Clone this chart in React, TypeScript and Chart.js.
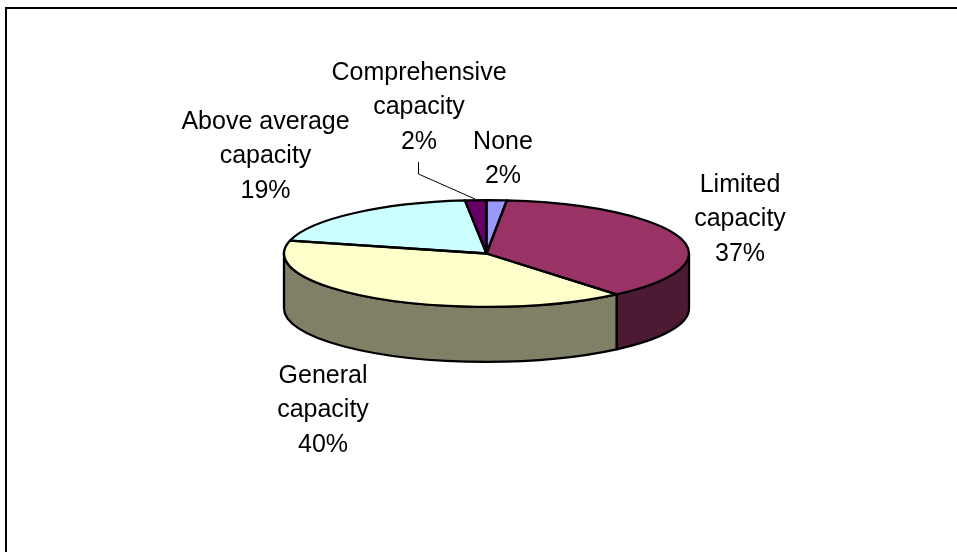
import React, { useEffect, useRef } from "react";
import { Chart, registerables } from "chart.js";

Chart.register(...registerables);

const categories = ["None", "Limited capacity", "General capacity", "Above average capacity", "Comprehensive capacity"];
const shares = [1.6, 37.3, 40.0, 19.4, 1.7];
const topColors = ["#9999FF", "#993366", "#FFFFCC", "#CCFFFF", "#660066"];
const sideColors = ["#4D4D80", "#4D1A33", "#808066", "#668080", "#330033"];

const labelLines = [["None"], ["Limited", "capacity"], ["General", "capacity"], ["Above average", "capacity"], ["Comprehensive", "capacity"]];
const labelCenters = [503, 740, 323, 265.5, 419];
const labelBaselines = [149, 192, 383, 129, 80];

const W = 957;
const H = 552;
const SQUASH = 53.5 / 203;
const DEPTH = 55;
const LINE_STEP = 34.3;
const STROKE = 2.3;
const FONT = '25px "Liberation Sans", Arial, sans-serif';

function squash(ctx: CanvasRenderingContext2D, cx: number, cy: number) {
  ctx.translate(cx, cy);
  ctx.scale(1, SQUASH);
  ctx.translate(-cx, -cy);
}

const pie3d = {
  id: "pie3d",
  beforeDraw(chart: any) {
    const { ctx } = chart;
    ctx.save();
    ctx.fillStyle = "#FFFFFF";
    ctx.fillRect(0, 0, W, H);
    ctx.strokeStyle = "#000000";
    ctx.lineWidth = 2;
    ctx.beginPath();
    ctx.moveTo(6, H);
    ctx.lineTo(6, 8);
    ctx.lineTo(W, 8);
    ctx.stroke();
    ctx.restore();
  },
  beforeDatasetsDraw(chart: any) {
    const { ctx } = chart;
    const arcs = chart.getDatasetMeta(0).data;
    ctx.lineWidth = STROKE;
    ctx.strokeStyle = "#000000";
    ctx.lineJoin = "round";
    arcs.forEach((arc: any, i: number) => {
      const a = Math.max(arc.startAngle, 0);
      const b = Math.min(arc.endAngle, Math.PI);
      if (b <= a) return;
      ctx.save();
      squash(ctx, arc.x, arc.y);
      ctx.beginPath();
      ctx.arc(arc.x, arc.y, arc.outerRadius, a, b);
      ctx.restore();
      ctx.save();
      ctx.translate(0, DEPTH);
      squash(ctx, arc.x, arc.y);
      ctx.arc(arc.x, arc.y, arc.outerRadius, b, a, true);
      ctx.restore();
      ctx.closePath();
      ctx.fillStyle = sideColors[i];
      ctx.fill();
      ctx.stroke();
    });
    const first = arcs[0];
    ctx.save();
    squash(ctx, first.x, first.y);
  },
  afterDatasetsDraw(chart: any) {
    const { ctx } = chart;
    ctx.restore();
    const arcs = chart.getDatasetMeta(0).data;
    ctx.save();
    ctx.lineWidth = STROKE;
    ctx.strokeStyle = "#000000";
    ctx.lineJoin = "round";
    arcs.forEach((arc: any) => {
      ctx.save();
      squash(ctx, arc.x, arc.y);
      ctx.beginPath();
      ctx.moveTo(arc.x, arc.y);
      ctx.arc(arc.x, arc.y, arc.outerRadius, arc.startAngle, arc.endAngle);
      ctx.closePath();
      ctx.restore();
      ctx.stroke();
    });

    ctx.lineWidth = 1;
    ctx.beginPath();
    ctx.moveTo(418.5, 162);
    ctx.lineTo(418.5, 174);
    ctx.lineTo(475, 199);
    ctx.stroke();

    ctx.fillStyle = "#000000";
    ctx.font = FONT;
    ctx.textAlign = "center";
    ctx.textBaseline = "alphabetic";
    const values: number[] = chart.data.datasets[0].data;
    const total = values.reduce((s, v) => s + v, 0);
    labelLines.forEach((lines, i) => {
      const text = [...lines, `${Math.round((values[i] / total) * 100)}%`];
      text.forEach((t, k) => {
        ctx.fillText(t, labelCenters[i], labelBaselines[i] + k * LINE_STEP);
      });
    });
    ctx.restore();
  },
};

export default function App() {
  const ref = useRef<HTMLCanvasElement>(null);
  useEffect(() => {
    const chart = new Chart(ref.current!, {
      type: "pie",
      data: {
        labels: categories,
        datasets: [{ data: shares, backgroundColor: topColors, borderWidth: 0 }],
      },
      options: {
        animation: false,
        responsive: false,
        rotation: 0,
        layout: { padding: { left: 284, right: 268, top: 50.5, bottom: 95.5 } },
        plugins: { legend: { display: false }, tooltip: { enabled: false } },
      },
      plugins: [pie3d],
    } as any);
    return () => chart.destroy();
  }, []);
  return (
    <canvas
      ref={ref}
      width={W}
      height={H}
      style={{ position: "fixed", left: 0, top: 0, width: W, height: H, display: "block" }}
    />
  );
}
